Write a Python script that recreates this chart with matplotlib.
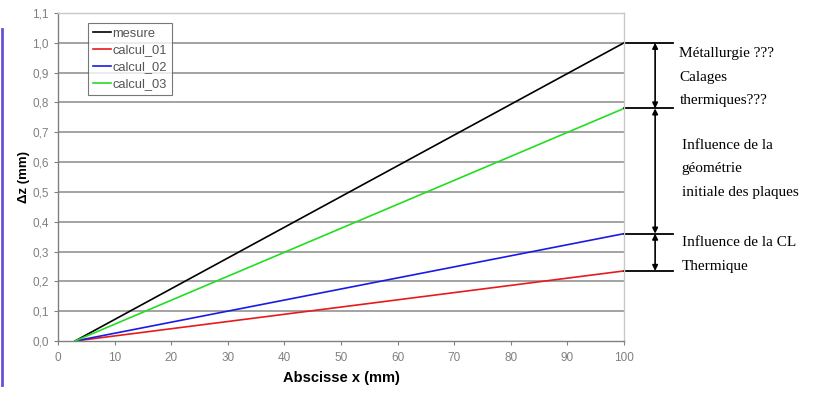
import matplotlib
matplotlib.use('Agg')
import matplotlib.pyplot as plt
from matplotlib.lines import Line2D

# ── Data ──────────────────────────────────────────────
x_vals   = [3, 100]
mesure   = [0.0, 1.0]
calcul01 = [0.0, 0.235]
calcul02 = [0.0, 0.36]
calcul03 = [0.0, 0.78]

series = [('mesure', mesure, 'black'),
          ('calcul_01', calcul01, '#e8191c'),
          ('calcul_02', calcul02, '#1a1ae6'),
          ('calcul_03', calcul03, '#22dd22')]

levels = [1.0, 0.78, 0.36, 0.235]
notes = [(0.885, ['Métallurgie ???', 'Calages', 'thermiques???'], 109.8),
         (0.578, ['Influence de la', 'géométrie', 'initiale des plaques'], 110.2),
         (0.29, ['Influence de la CL', 'Thermique'], 110.2)]

yticks = [i / 10 for i in range(12)]
xticks = list(range(0, 101, 10))

# ── Plot ──────────────────────────────────────────────
fig = plt.figure(figsize=(8.3, 3.93), dpi=100)
ax = fig.add_axes([0.0699, 0.1323, 0.6819, 0.8346])

for name, vals, col in series:
    ax.plot(x_vals, vals, color=col, lw=1.2, label=name)

ax.set_xlim(0, 100)
ax.set_ylim(0, 1.1)
ax.set_xticks(xticks)
ax.set_yticks(yticks)
ax.set_yticklabels([f'{v:.1f}'.replace('.', ',') for v in yticks])
for y in yticks[1:-1]:
    ax.axhline(y, color='#8a8a8a', lw=1.1, zorder=0)

for side in ['top', 'right']:
    ax.spines[side].set_color('#c8c8c8')
for side in ['left', 'bottom']:
    ax.spines[side].set_color('#808080')
for sp in ax.spines.values():
    sp.set_linewidth(1.0)
ax.tick_params(direction='out', length=3, color='#808080',
               labelcolor='#808080', labelsize=8.5)
ax.tick_params(axis='x', pad=5)
for lab in ax.get_xticklabels() + ax.get_yticklabels():
    lab.set_family('Liberation Sans')

ax.set_xlabel('Abscisse x (mm)', fontsize=10.5, fontweight='bold',
              family='Liberation Sans', labelpad=5)
ax.set_ylabel('Δz (mm)', fontsize=9.5, fontweight='bold',
              family='Liberation Sans', labelpad=2)

leg = ax.legend(loc='upper left', bbox_to_anchor=(0.053, 0.9695),
                frameon=True, fancybox=False,
                handlelength=1.45, handletextpad=0.1, borderpad=0.35,
                borderaxespad=0.0, labelspacing=0.38,
                prop={'family': 'Liberation Sans', 'size': 9.3})
leg.get_frame().set_edgecolor('#555555')
leg.get_frame().set_linewidth(0.8)
for t in leg.get_texts():
    t.set_color('#555555')

# horizontal markers right of the plot
for lv in levels:
    ax.add_line(Line2D([100, 108.6], [lv, lv], color='black', lw=1.3,
                       clip_on=False))

# double arrows between levels
for top, bot in zip(levels[:-1], levels[1:]):
    ax.annotate('', xy=(105.5, bot), xytext=(105.5, top),
                arrowprops=dict(arrowstyle='<|-|>', color='black', lw=1.2,
                                mutation_scale=8, shrinkA=0, shrinkB=0),
                annotation_clip=False)

for yc, lines, xt in notes:
    ax.text(xt, yc, '\n'.join(lines), ha='left', va='center',
            family='Liberation Serif', fontsize=11, linespacing=2.05,
            clip_on=False)

# purple frame line on the left edge
fig.add_artist(Line2D([0.002, 0.002], [0.02, 0.925], color='#6a4fd8',
                      lw=2.0, transform=fig.transFigure))

fig.savefig('out.png', dpi=100)
